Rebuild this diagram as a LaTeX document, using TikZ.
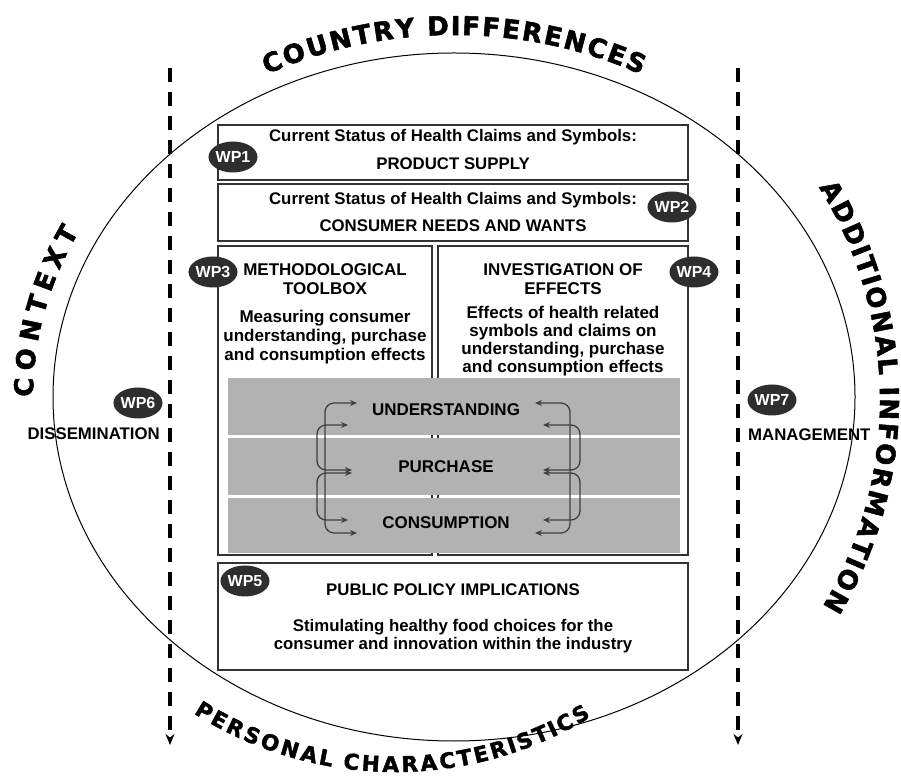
\documentclass[tikz,border=0pt]{standalone}
\usepackage{fontspec}
\setmainfont{Liberation Sans}
\newfontfamily\arcfont[FakeBold=2]{DejaVu Sans Bold}
\usetikzlibrary{arrows.meta,shapes.geometric,decorations.text}
\newcommand\arcsize{\arcfont\fontsize{26}{26}\selectfont}
\newcommand\arcsmall{\arcfont\fontsize{21.5}{21.5}\selectfont}
\begin{document}
\begin{tikzpicture}[x=1pt,y=1pt,
  box/.style={draw=black!80, line width=1.3pt, fill=white, inner sep=0pt},
  row/.style={fill=black!30, minimum width=452pt, inner sep=0pt},
  wp/.style={ellipse, fill=black!82, text=white, minimum width=44pt, minimum height=31pt, inner sep=0pt,
    font=\fontsize{16}{16}\selectfont\bfseries},
  txt/.style={inner sep=0pt, align=center, font=\fontsize{16.8}{18}\selectfont\bfseries},
  big/.style={inner sep=0pt, align=center, font=\fontsize{17}{19}\selectfont\bfseries},
  guide/.style={line width=3.2pt, dash pattern=on 14pt off 10pt, -{Stealth[length=11pt,width=9pt]}},
  link/.style={draw=black!75, line width=1.3pt, rounded corners=9pt,
    {Stealth[length=7pt,width=6pt]}-{Stealth[length=7pt,width=6pt]}},
  arctext/.style 2 args={decorate, decoration={text effects along path, text={#2},
    text effects/.cd, text along path, fit text to path,
    character widths={font=#1, inner xsep=0pt},
    characters={font=#1, inner sep=0pt, anchor=base}}}]
\useasboundingbox (0,0) rectangle (901,776);

% outer ring and side lines
\draw[line width=1pt] (454,379) ellipse [x radius=401, y radius=344];
\coordinate (ltop) at (170,708);
\coordinate (lbot) at (170,31);
\coordinate (rtop) at (738,708);
\coordinate (rbot) at (738,31);
\draw[guide] (ltop) -- (lbot);
\draw[guide] (rtop) -- (rbot);

% texts round the ring
\path[arctext={\arcsize}{COUNTRY DIFFERENCES}] (454,379) ++(117:412 and 362) arc[start angle=117, end angle=63, x radius=412, y radius=362];
\path[arctext={\arcsize}{CONTEXT}] (454,379) ++(180:421 and 364) arc[start angle=180, end angle=153, x radius=421, y radius=364];
\path[arctext={\arcsize}{ADDITIONAL INFORMATION}] (452,376) ++(31:428 and 413) arc[start angle=31, end angle=-30, x radius=428, y radius=413];
\path[arctext={\arcsmall}{PERSONAL CHARACTERISTICS}] (395,390) ++(238:380 and 386) arc[start angle=238, end angle=301, x radius=380, y radius=386];

% work packages
\node[box, minimum width=470pt, minimum height=55pt] (supply) at (453,623.5) {};
\node[txt] (supplya) at (453,639) {Current Status of Health Claims and Symbols:};
\node[txt] (supplyb) at (453,612) {PRODUCT SUPPLY};

\node[box, minimum width=470pt, minimum height=57pt] (needs) at (453,563.5) {};
\node[txt] (needsa) at (453,576) {Current Status of Health Claims and Symbols:};
\node[txt] (needsb) at (453,550) {CONSUMER NEEDS AND WANTS};

\node[box, minimum width=214pt, minimum height=309pt] (tool) at (325,375.5) {};
\node[big] (toola) at (325,496.5) {METHODOLOGICAL\\TOOLBOX};
\node[big] (toolb) at (325,439) {Measuring consumer\\understanding, purchase\\and consumption effects};

\node[box, minimum width=250pt, minimum height=309pt] (effects) at (563,375.5) {};
\node[big] (effectsa) at (563,496.5) {INVESTIGATION OF\\EFFECTS};
\node[big, font=\fontsize{17}{18}\selectfont\bfseries] (effectsb) at (563,435) {Effects of health related\\symbols and claims on\\understanding, purchase\\and consumption effects};

\node[row, minimum height=57pt] (und) at (454,369.5) {};
\node[row, minimum height=57pt] (pur) at (454,309.5) {};
\node[row, minimum height=55pt] (con) at (454,250.5) {};
\node[big] (unda) at (446,366) {UNDERSTANDING};
\node[big] (pura) at (446,309) {PURCHASE};
\node[big] (cona) at (446,253) {CONSUMPTION};

\node[box, minimum width=470pt, minimum height=107pt] (policy) at (453,159.5) {};
\node[txt] (policya) at (453,186) {PUBLIC POLICY IMPLICATIONS};
\node[txt] (policyb) at (453,140) {Stimulating healthy food choices for the\\consumer and innovation within the industry};

% arrows between the effects
\coordinate (ul1) at (357,373);
\coordinate (ul2) at (348,351);
\coordinate (pl1) at (352,306);
\coordinate (pl2) at (352,303);
\coordinate (cl2) at (348,256);
\coordinate (cl1) at (357,243);
\coordinate (ur1) at (535,373);
\coordinate (ur2) at (543,351);
\coordinate (pr1) at (543,306);
\coordinate (pr2) at (543,303);
\coordinate (cr2) at (543,256);
\coordinate (cr1) at (535,243);
\draw[link] (ul1) -| ++(-32,-65) |- (cl1);
\draw[link] (ul2) -| ++(-31,-22) |- (pl1);
\draw[link] (pl2) -| ++(-35,-25) |- (cl2);
\draw[link] (ur1) -| ++(35,-65) |- (cr1);
\draw[link] (ur2) -| ++(37,-22) |- (pr1);
\draw[link] (pr2) -| ++(37,-25) |- (cr2);

% badges
\node[wp] (wp1) at (233,619) {WP1};
\node[wp] (wp2) at (672,569) {WP2};
\node[wp] (wp3) at (213,504) {WP3};
\node[wp] (wp4) at (694,504) {WP4};
\node[wp] (wp5) at (245,195) {WP5};
\node[wp] (wp6) at (138,373) {WP6};
\node[wp] (wp7) at (772,376) {WP7};
\node[txt, anchor=east] (diss) at (160,342) {DISSEMINATION};
\node[txt, anchor=west] (mgmt) at (748,341) {MANAGEMENT};
\end{tikzpicture}
\end{document}
